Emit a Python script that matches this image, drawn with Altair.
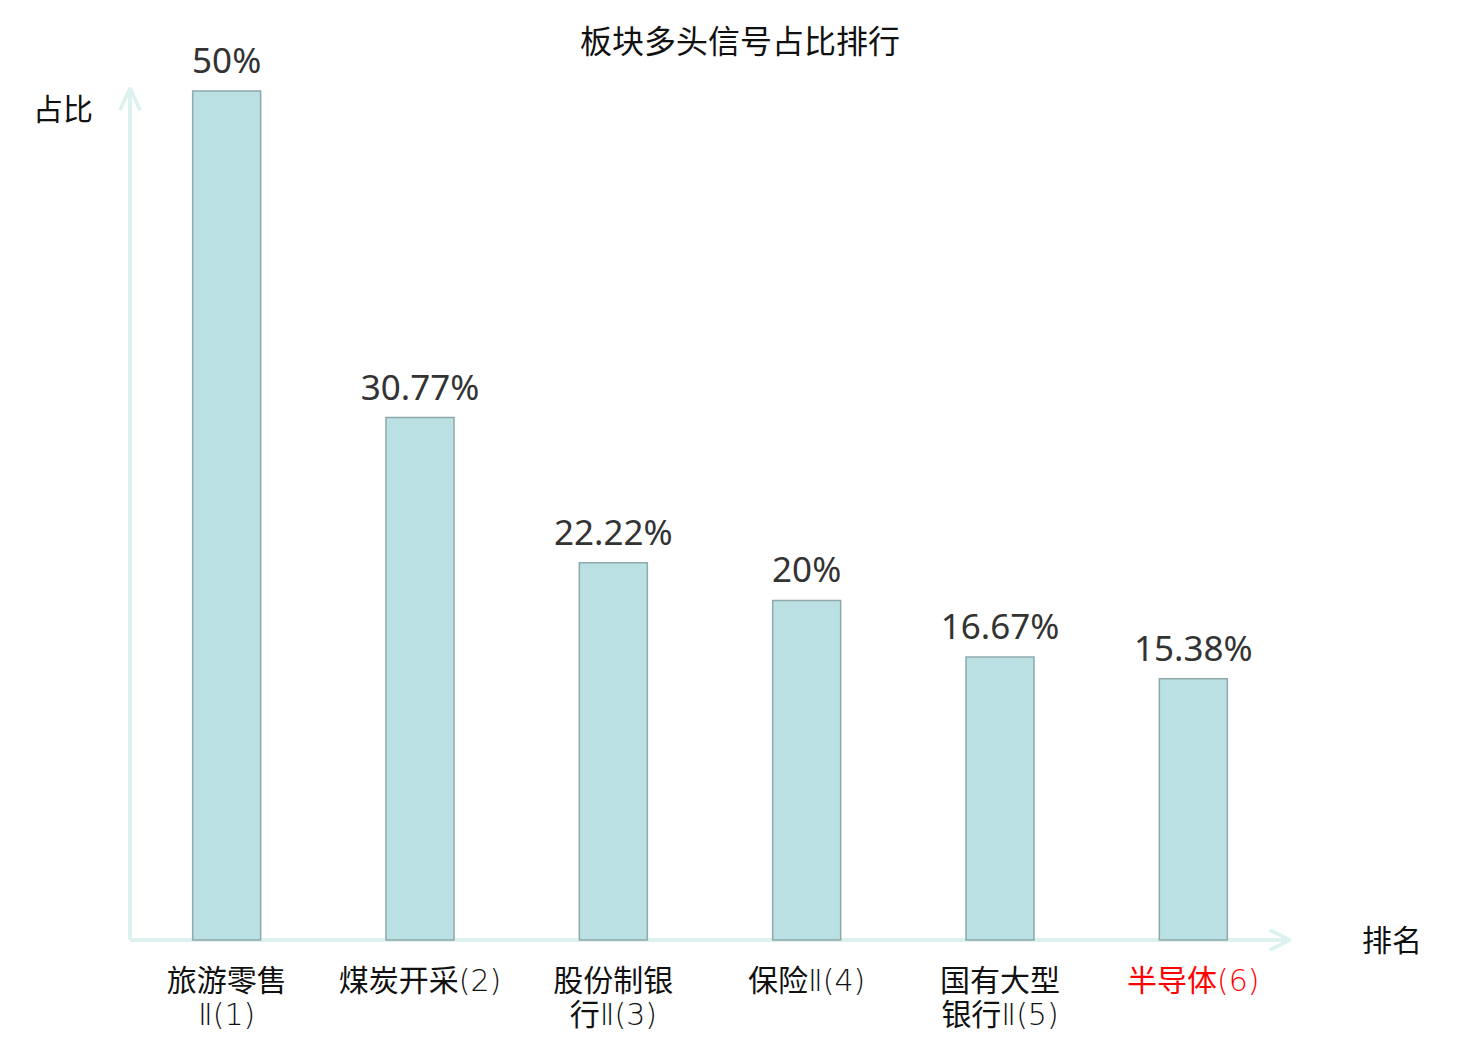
import altair as alt
import pandas as pd

categories = ["旅游零售Ⅱ(1)", "煤炭开采(2)", "股份制银行Ⅱ(3)", "保险Ⅱ(4)", "国有大型银行Ⅱ(5)", "半导体(6)"]
tick_labels = ["旅游零售\nⅡ(1)", "煤炭开采(2)", "股份制银\n行Ⅱ(3)", "保险Ⅱ(4)", "国有大型\n银行Ⅱ(5)", "半导体(6)"]
values = [50, 30.77, 22.22, 20, 16.67, 15.38]
value_text = ["50%", "30.77%", "22.22%", "20%", "16.67%", "15.38%"]
highlight = [False, False, False, False, False, True]

df = pd.DataFrame({
    "cat": categories,
    "lab": tick_labels,
    "val": values,
    "txt": value_text,
    "hl": highlight,
})

W, H = 1160, 849
AX = "#ddf2ef"
CJK = "Noto Sans CJK SC"
LABFONT = '"DejaVu Sans Light", "Noto Sans CJK SC"'

x = alt.X("cat:N", sort=categories, axis=None,
          scale=alt.Scale(paddingInner=0, paddingOuter=0))
y = alt.Y("val:Q", axis=None, scale=alt.Scale(domain=[0, 50], nice=False, zero=True))

base = alt.Chart(df)

bars = base.mark_bar(size=68, color="#bbe0e3", stroke="#8fa9aa", strokeWidth=1.5).encode(x=x, y=y)

vals = base.mark_text(font="Noto Sans", fontSize=35, color="#333333",
                      baseline="alphabetic", dy=-18).encode(x=x, y=y, text="txt:N")

labs = base.mark_text(font=LABFONT, fontSize=30, baseline="top", lineBreak="\n",
                      lineHeight=34).encode(
    x=x, y=alt.value(H + 27), text="lab:N",
    color=alt.condition("datum.hl", alt.value("#ff0000"), alt.value("#111111")))

axis_style = dict(color=AX, strokeWidth=3)
yline = alt.Chart(df).mark_rule(**axis_style).encode(
    x=alt.value(0), y=alt.value(H), y2=alt.value(-3))
xline = alt.Chart(df).mark_rule(**axis_style).encode(
    x=alt.value(0), x2=alt.value(W), y=alt.value(H))
ya1 = alt.Chart(df).mark_rule(**axis_style).encode(
    x=alt.value(-10), x2=alt.value(0), y=alt.value(19), y2=alt.value(-3))
ya2 = alt.Chart(df).mark_rule(**axis_style).encode(
    x=alt.value(10), x2=alt.value(0), y=alt.value(19), y2=alt.value(-3))
xa1 = alt.Chart(df).mark_rule(**axis_style).encode(
    x=alt.value(W - 20), x2=alt.value(W), y=alt.value(H - 10), y2=alt.value(H))
xa2 = alt.Chart(df).mark_rule(**axis_style).encode(
    x=alt.value(W - 20), x2=alt.value(W), y=alt.value(H + 10), y2=alt.value(H))

one = pd.DataFrame({"t": ["板块多头信号占比排行"], "yt": ["占比"], "xt": ["排名"]})
title = alt.Chart(one).mark_text(font=CJK, fontSize=32, color="#111111", baseline="middle").encode(
    x=alt.value(610), y=alt.value(-48), text="t:N")
ytitle = alt.Chart(one).mark_text(font=CJK, fontSize=30, color="#111111", baseline="middle").encode(
    x=alt.value(-67), y=alt.value(20), text="yt:N")
xtitle = alt.Chart(one).mark_text(font=CJK, fontSize=30, color="#111111", baseline="middle").encode(
    x=alt.value(1262), y=alt.value(851), text="xt:N")

chart = alt.layer(yline, xline, ya1, ya2, xa1, xa2, bars, vals, labs, title, ytitle, xtitle).properties(
    width=W, height=H,
    background="white",
    autosize=alt.AutoSizeParams(type="none"),
    padding={"left": 122, "top": 83, "right": 182, "bottom": 92},
).configure_view(strokeWidth=0, stroke=None)

chart.save("out.html", embed_options={"renderer": "svg", "actions": False})
